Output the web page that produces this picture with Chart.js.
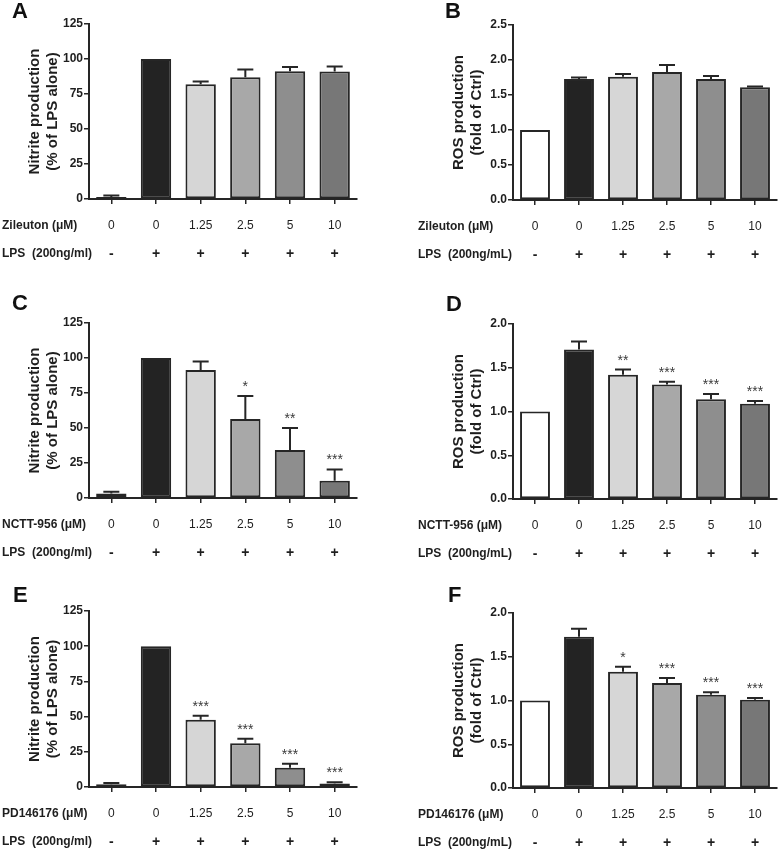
<!DOCTYPE html>
<html><head><meta charset="utf-8">
<script src="https://cdn.jsdelivr.net/npm/chart.js@4/dist/chart.umd.min.js"></script>
<style>
html,body{margin:0;padding:0;background:#fff;}
#wrap{position:relative;width:778px;height:850px;overflow:hidden;background:#fff;}
canvas{position:absolute;}
</style></head><body>
<div id="wrap">
<canvas id="cA" width="389" height="275" style="left:0;top:0"></canvas>
<canvas id="cB" width="389" height="275" style="left:389px;top:0"></canvas>
<canvas id="cC" width="389" height="285" style="left:0;top:280px"></canvas>
<canvas id="cD" width="389" height="285" style="left:389px;top:280px"></canvas>
<canvas id="cE" width="389" height="285" style="left:0;top:565px"></canvas>
<canvas id="cF" width="389" height="285" style="left:389px;top:565px"></canvas>
</div>
<script>
// ---- data ----
const doseLabels = ['0', '0', '1.25', '2.5', '5', '10'];
const lpsLabels = ['-', '+', '+', '+', '+', '+'];
const barColors = ['#ffffff', '#232323', '#d6d6d6', '#a8a8a8', '#8e8e8e', '#777777'];

const nitriteZileuton = [1.5, 100, 82, 87, 91.3, 91];
const nitriteZileutonErr = [1, 0, 2, 5.5, 3, 3.7];
const nitriteZileutonSig = ['', '', '', '', '', ''];

const rosZileuton = [1.0, 1.73, 1.76, 1.83, 1.73, 1.61];
const rosZileutonErr = [0, 0.02, 0.04, 0.10, 0.04, 0.01];
const rosZileutonSig = ['', '', '', '', '', ''];

const nitriteNCTT = [3.2, 100, 91.5, 56.5, 34.3, 12.4];
const nitriteNCTTErr = [1.3, 0, 6, 16.3, 15.7, 8];
const nitriteNCTTSig = ['', '', '', '*', '**', '***'];

const rosNCTT = [1.0, 1.71, 1.42, 1.31, 1.14, 1.09];
const rosNCTTErr = [0, 0.09, 0.06, 0.03, 0.06, 0.03];
const rosNCTTSig = ['', '', '**', '***', '***', '***'];

const nitritePD = [2.0, 100, 47.8, 31, 13.7, 2.4];
const nitritePDErr = [0.8, 0, 2.8, 3.3, 2.9, 0.9];
const nitritePDSig = ['', '', '***', '***', '***', '***'];

const rosPD = [1.0, 1.73, 1.33, 1.20, 1.067, 1.01];
const rosPDErr = [0, 0.09, 0.057, 0.057, 0.026, 0.018];
const rosPDSig = ['', '', '*', '***', '***', '***'];

const nitriteTitle = ['Nitrite production', '(% of LPS alone)'];
const rosTitle = ['ROS production', '(fold of Ctrl)'];

Chart.defaults.font.family = "'Liberation Sans', Arial, sans-serif";
Chart.defaults.color = '#222';

const INK = '#262626';

const extrasPlugin = {
  id: 'extras',
  afterDatasetsDraw(chart, args, o) {
    const ctx = chart.ctx;
    const meta = chart.getDatasetMeta(0);
    const ys = chart.scales.y;
    ctx.save();
    ctx.strokeStyle = INK;
    ctx.lineWidth = 2;
    o.values.forEach((v, i) => {
      const e = o.errors[i];
      const bx = meta.data[i].x;
      let top = ys.getPixelForValue(v);
      if (e) {
        const y0 = ys.getPixelForValue(v);
        const y1 = ys.getPixelForValue(v + e);
        top = y1;
        ctx.beginPath();
        ctx.moveTo(bx, y0); ctx.lineTo(bx, y1);
        ctx.moveTo(bx - 8, y1); ctx.lineTo(bx + 8, y1);
        ctx.stroke();
      }
      const s = o.sig[i];
      if (s) {
        ctx.fillStyle = '#3a3a3a';
        ctx.font = "14px 'Liberation Sans', Arial, sans-serif";
        ctx.textAlign = 'center';
        ctx.textBaseline = 'alphabetic';
        ctx.fillText(s, bx, top - 5);
      }
    });
    ctx.restore();
  },
  afterDraw(chart, args, o) {
    const ctx = chart.ctx;
    const meta = chart.getDatasetMeta(0);
    const bottom = chart.chartArea.bottom;
    ctx.save();
    ctx.fillStyle = '#1e1e1e';
    ctx.textBaseline = 'middle';
    // row names
    ctx.textAlign = 'left';
    ctx.font = "bold 12px 'Liberation Sans', Arial, sans-serif";
    ctx.fillText(o.rowName, o.labelX, bottom + 27);
    ctx.fillText(o.lpsName, o.labelX, bottom + 55);
    // per-category labels
    ctx.textAlign = 'center';
    doseLabels.forEach((d, i) => {
      const bx = meta.data[i].x;
      ctx.font = "12px 'Liberation Sans', Arial, sans-serif";
      ctx.fillText(d, bx, bottom + 27);
      ctx.font = "bold 14px 'Liberation Sans', Arial, sans-serif";
      ctx.fillText(lpsLabels[i], bx, bottom + 55);
    });
    // panel letter
    ctx.textAlign = 'left';
    ctx.textBaseline = 'alphabetic';
    ctx.font = "bold 22px 'Liberation Sans', Arial, sans-serif";
    ctx.fillStyle = '#111';
    ctx.fillText(o.letter, o.letterX, o.letterY);
    ctx.restore();
  }
};

function makePanel(id, values, errors, sig, yMax, yStep, decimals, title, rowName, lpsName, L) {
  const canvas = document.getElementById(id);
  const W = canvas.width, H = canvas.height;
  new Chart(canvas, {
    type: 'bar',
    data: {
      labels: doseLabels,
      datasets: [{
        data: values,
        backgroundColor: barColors,
        borderColor: INK,
        borderWidth: 2,
        borderSkipped: false,
        barPercentage: 0.68,
        categoryPercentage: 1.0
      }]
    },
    options: {
      responsive: false,
      animation: false,
      devicePixelRatio: 1,
      layout: { padding: { left: 0, top: L.top, right: W - L.right, bottom: 0 } },
      plugins: {
        legend: { display: false },
        tooltip: { enabled: false },
        extras: { values, errors, sig, rowName, lpsName, labelX: L.labelX, letter: L.letter, letterX: L.letterX, letterY: L.letterY }
      },
      scales: {
        x: {
          grid: { display: true, drawOnChartArea: false, offset: false, tickLength: 5, color: INK, lineWidth: 1.5 },
          border: { display: true, color: INK, width: 2 },
          ticks: { display: false },
          afterFit(s) { s.height = H - L.bottom; }
        },
        y: {
          min: 0, max: yMax,
          grid: { display: true, drawOnChartArea: false, tickLength: 5, color: INK, lineWidth: 1.5 },
          border: { display: true, color: INK, width: 2 },
          ticks: {
            stepSize: yStep, padding: 1, color: '#1e1e1e',
            font: { size: 12, weight: 'bold' },
            callback: (v) => Number(v).toFixed(decimals)
          },
          title: {
            display: true, text: title, color: '#1e1e1e',
            font: { size: 15, weight: 'bold', lineHeight: 1.2 },
            padding: { top: L.left - 63, bottom: 0 }
          },
          afterFit(s) { s.width = L.left; }
        }
      }
    },
    plugins: [extrasPlugin]
  });
}

makePanel('cA', nitriteZileuton, nitriteZileutonErr, nitriteZileutonSig, 125, 25, 0, nitriteTitle,
  'Zileuton (\u03bcM)', 'LPS  (200ng/ml)',
  { left: 89, top: 24, right: 357, bottom: 199, labelX: 2, letter: 'A', letterX: 12, letterY: 18 });
makePanel('cB', rosZileuton, rosZileutonErr, rosZileutonSig, 2.5, 0.5, 1, rosTitle,
  'Zileuton (\u03bcM)', 'LPS  (200ng/mL)',
  { left: 124, top: 25, right: 388, bottom: 200, labelX: 29, letter: 'B', letterX: 56, letterY: 18 });
makePanel('cC', nitriteNCTT, nitriteNCTTErr, nitriteNCTTSig, 125, 25, 0, nitriteTitle,
  'NCTT-956 (\u03bcM)', 'LPS  (200ng/ml)',
  { left: 89, top: 43, right: 357, bottom: 218, labelX: 2, letter: 'C', letterX: 12, letterY: 30 });
makePanel('cD', rosNCTT, rosNCTTErr, rosNCTTSig, 2.0, 0.5, 1, rosTitle,
  'NCTT-956 (\u03bcM)', 'LPS  (200ng/mL)',
  { left: 124, top: 44, right: 388, bottom: 219, labelX: 29, letter: 'D', letterX: 57, letterY: 31 });
makePanel('cE', nitritePD, nitritePDErr, nitritePDSig, 125, 25, 0, nitriteTitle,
  'PD146176 (\u03bcM)', 'LPS  (200ng/ml)',
  { left: 89, top: 46, right: 357, bottom: 222, labelX: 2, letter: 'E', letterX: 13, letterY: 37 });
makePanel('cF', rosPD, rosPDErr, rosPDSig, 2.0, 0.5, 1, rosTitle,
  'PD146176 (\u03bcM)', 'LPS  (200ng/mL)',
  { left: 124, top: 48, right: 388, bottom: 223, labelX: 29, letter: 'F', letterX: 59, letterY: 37 });
</script>
</body></html>
